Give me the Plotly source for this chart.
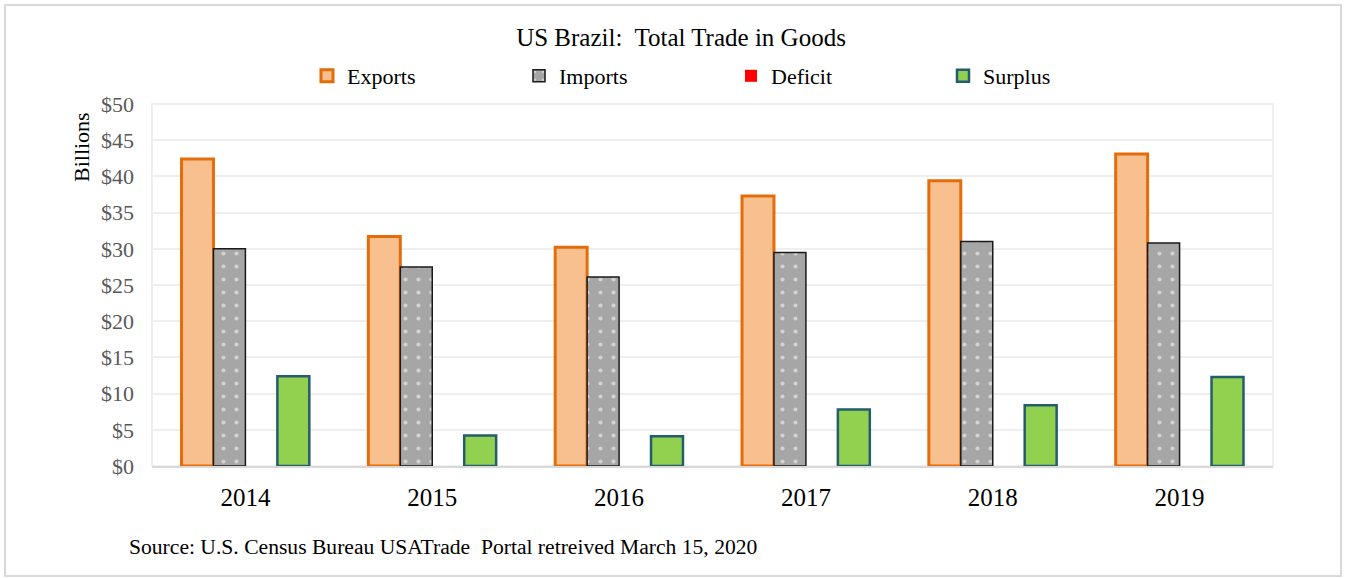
import plotly.graph_objects as go

years = ["2014", "2015", "2016", "2017", "2018", "2019"]
exports = [42.4, 31.7, 30.2, 37.3, 39.4, 43.1]
imports = [30.0, 27.5, 26.1, 29.5, 31.0, 30.8]
deficit = [0, 0, 0, 0, 0, 0]
surplus = [12.4, 4.2, 4.1, 7.8, 8.4, 12.3]
y_ticks = [0, 5, 10, 15, 20, 25, 30, 35, 40, 45, 50]
y_tick_labels = ["$" + str(v) for v in y_ticks]

W, H = 1353, 578
L, R, T, B = 152, 80, 104, 112
pw, ph = W - L - R, H - T - B

FONT = "Liberation Serif"

fig = go.Figure()
fig.add_trace(go.Bar(
    name="Exports", x=years, y=exports,
    marker=dict(color="#F9C08F", line=dict(color="#E46C0A", width=3)),
))
fig.add_trace(go.Bar(
    name="Imports", x=years, y=imports,
    marker=dict(color="#A6A6A6", line=dict(color="#1a1a1a", width=1.5),
                pattern=dict(shape=".", fgcolor="white", bgcolor="#A6A6A6",
                             size=13, solidity=0.08)),
))
fig.add_trace(go.Bar(
    name="Deficit", x=years, y=deficit,
    marker=dict(color="#FF0000", line=dict(color="#FF0000", width=0)),
))
fig.add_trace(go.Bar(
    name="Surplus", x=years, y=surplus,
    marker=dict(color="#92D050", line=dict(color="#235D6E", width=2.5)),
))


def px_x(x):
    return (x - L) / pw


def px_y(y):
    return (H - B - y) / ph


shapes = [
    # outer chart frame
    dict(type="rect", xref="paper", yref="paper",
         x0=px_x(5), x1=px_x(1341), y0=px_y(576), y1=px_y(5),
         line=dict(color="#D9D9D9", width=2), layer="below"),
    # plot area frame
    dict(type="rect", xref="paper", yref="paper",
         x0=0, x1=1, y0=0, y1=1,
         line=dict(color="#EFEFEF", width=2), layer="below"),
]

fig.update_layout(
    width=W, height=H,
    margin=dict(l=L, r=R, t=T, b=B, autoexpand=False),
    paper_bgcolor="white", plot_bgcolor="white",
    barmode="group", bargap=0.316, bargroupgap=0,
    font=dict(family=FONT, color="#000000"),
    title=dict(text="US Brazil:  Total Trade in Goods", x=681 / W, xanchor="center",
               y=1 - 37 / H, yanchor="middle", font=dict(size=25, family=FONT, color="#000")),
    legend=dict(orientation="h", xref="container", yref="container",
                x=307 / W, xanchor="left", y=1 - 76 / H, yanchor="middle",
                font=dict(size=22, family=FONT, color="#000"),
                entrywidth=167, entrywidthmode="pixels", itemwidth=30,
                traceorder="normal"),
    shapes=shapes,
    showlegend=True,
)

fig.update_xaxes(
    showline=True, linecolor="#D9D9D9", linewidth=2,
    ticks="", showgrid=False,
    tickfont=dict(size=25, family=FONT, color="#000"),
    ticklabelstandoff=8,
)
fig.update_yaxes(
    range=[0, 50], tickvals=y_ticks, ticktext=y_tick_labels,
    showgrid=True, gridcolor="#EFEFEF", gridwidth=2,
    showline=False, zeroline=False, ticks="",
    tickfont=dict(size=22, family=FONT, color="#595959"),
    ticklabelstandoff=17,
)

fig.add_annotation(
    text="Billions", textangle=-90,
    xref="paper", yref="paper", x=px_x(81), y=px_y(147),
    xanchor="center", yanchor="middle", showarrow=False,
    font=dict(size=22, family=FONT, color="#000"),
)

fig.add_annotation(
    text="Source: U.S. Census Bureau USATrade  Portal retreived March 15, 2020",
    xref="paper", yref="paper", x=px_x(127), y=px_y(547),
    xanchor="left", yanchor="middle", showarrow=False,
    font=dict(size=21.6, family=FONT, color="#000"),
)

fig.write_html("out.html", config={"displayModeBar": False},
               post_script="document.body.style.margin='0px';")
